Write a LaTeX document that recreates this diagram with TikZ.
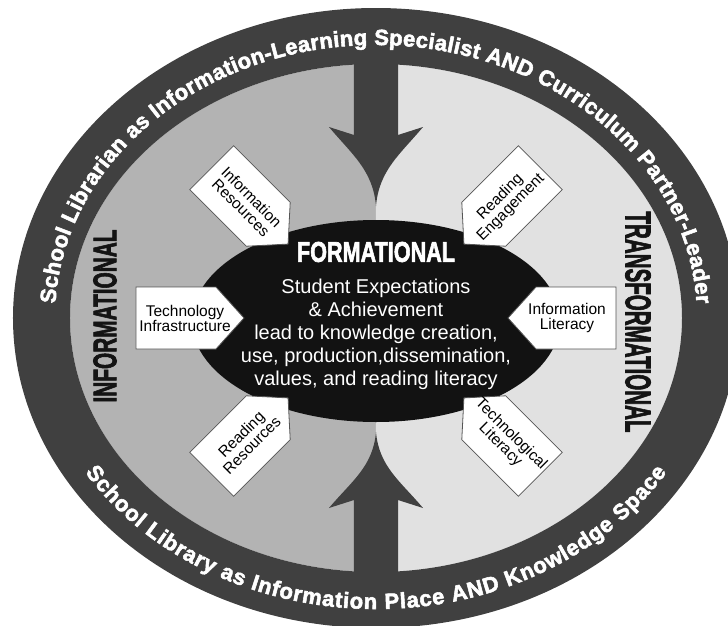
\documentclass[tikz,border=0pt]{standalone}
\usepackage{fontspec}
\setmainfont{Liberation Sans}
\newfontfamily\heavyfont{Liberation Sans}[BoldFeatures={FakeBold=2.5}]
\usepackage{graphicx}
\usepackage{tikz}
\usetikzlibrary{calc}
\usetikzlibrary{decorations.text}
\definecolor{ringgrey}{RGB}{64,64,64}
\definecolor{infogrey}{RGB}{179,179,179}
\definecolor{transgrey}{RGB}{225,225,225}
\definecolor{coreblack}{RGB}{18,18,18}
\definecolor{boxedge}{RGB}{85,85,85}
\definecolor{titleblack}{RGB}{20,20,20}
\newcommand\ringfont{\color{white}\heavyfont\bfseries\fontsize{22}{22}\selectfont}
\newcommand\boxlinewd{.8pt}
\tikzstyle{boxline} = [draw=boxedge, fill=white, line width=\boxlinewd]
\tikzstyle{boxtext} = [align=center, inner sep=0pt, font=\fontsize{15.5}{15}\selectfont]
\tikzstyle{bigarrow} = [fill=ringgrey]
\newcommand\pointbox[5]{%
  \begin{scope}[shift={#2}, rotate=#3, xscale=#4]
    \draw[boxline] (-40, -31) -- (40, -31) -- (68, 0) -- (40, 31) -- (-40, 31) -- cycle;
    \node[boxtext, rotate=#3] (#1) at (9, 0) {#5};
  \end{scope}}

\begin{document}
\begin{tikzpicture}[x=1pt, y=1pt]
  \clip (-376, -307) rectangle (352, 318);
  \fill[infogrey] (0, 254) arc[start angle=90, end angle=270, x radius=306, y radius=254] -- cycle;
  \fill[transgrey] (0, 254) arc[start angle=90, end angle=-90, x radius=306, y radius=254] -- cycle;
  \fill[bigarrow] (-22, 280) -- (-22, 183) -- (-47, 191) to[out=-50, in=95] (0, 112)
    to[out=85, in=-130] (47, 191) -- (22, 183) -- (22, 280) -- cycle;
  \fill[bigarrow] (-22, -280) -- (-22, -182) -- (-47, -190) to[out=50, in=-95] (0, -114)
    to[out=-85, in=130] (47, -190) -- (22, -182) -- (22, -280) -- cycle;
  \fill[coreblack] (0, -3) ellipse[x radius=184, y radius=101];
  \fill[ringgrey, even odd rule] (0, 0) ellipse[x radius=363, y radius=310]
    (0, 0) ellipse[x radius=306, y radius=254];
  \pointbox{inforesources}{(-136, 122)}{-45}{1}{Information\\Resources}
  \pointbox{readengage}{(136, 122)}{45}{-1}{Reading\\Engagement}
  \pointbox{techinfra}{(-200, 0)}{0}{1}{Technology\\Infrastructure}
  \pointbox{infoliteracy}{(200, 0)}{0}{-1}{Information\\Literacy}
  \pointbox{readresources}{(-136, -128)}{45}{1}{Reading\\Resources}
  \pointbox{techliteracy}{(136, -128)}{-45}{-1}{Technological\\Literacy}
  \draw (0, 66) node[inner sep=0pt, text=white] (formational)
    {\resizebox{158pt}{20pt}{\heavyfont\bfseries FORMATIONAL}};
  \draw (0, -16) node[inner sep=0pt, text=white, align=center,
    font=\fontsize{20}{23}\selectfont] (expectations)
    {Student Expectations\\\& Achievement\\lead to knowledge creation,\\use, production,dissemination,\\values, and reading literacy};
  \draw (-271, 2) node[inner sep=0pt, rotate=90, text=titleblack] (informational)
    {\resizebox{173pt}{23pt}{\heavyfont\bfseries INFORMATIONAL}};
  \draw (262, -4) node[inner sep=0pt, rotate=-90, text=titleblack] (transformational)
    {\resizebox{221pt}{25pt}{\heavyfont\bfseries TRANSFORMATIONAL}};
  \path[decorate, decoration={text along path, text align=fit to path,
    text={|\ringfont|School Librarian as Information-Learning Specialist AND Curriculum Partner-Leader}}]
    (177:321 and 273) arc[start angle=177, end angle=3, x radius=321, y radius=273];
  \path[decorate, decoration={text along path, text align=fit to path,
    text={|\ringfont|School Library as Information Place AND Knowledge Space}}]
    (212:343 and 291) arc[start angle=212, end angle=328, x radius=343, y radius=291];
\end{tikzpicture}
\end{document}
